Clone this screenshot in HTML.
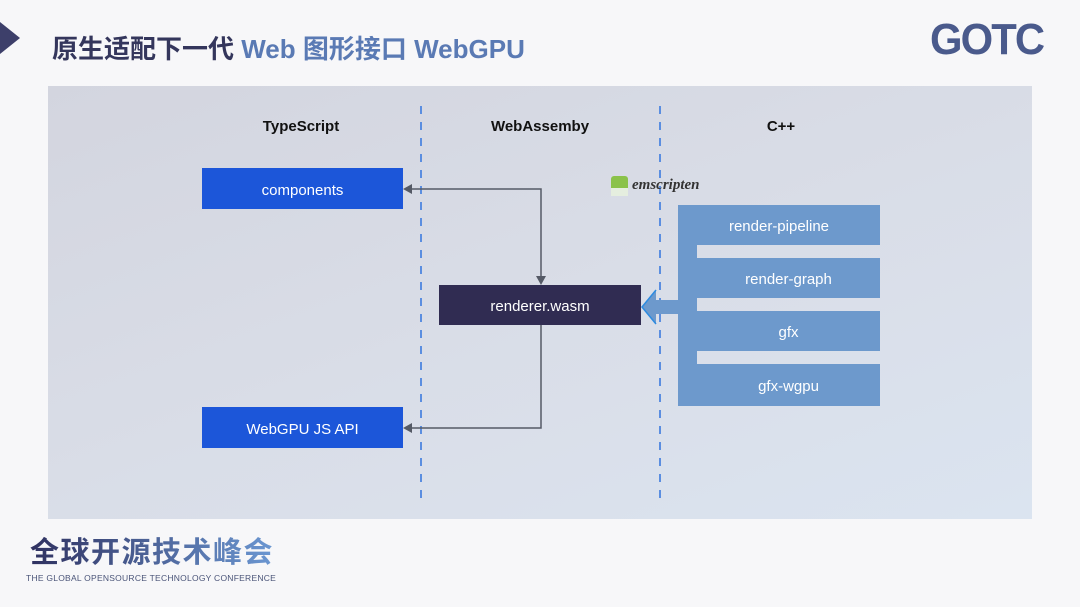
<!DOCTYPE html><html><head><meta charset="utf-8"><style>
body{margin:0;width:1080px;height:607px;overflow:hidden;background:#f7f7f9;font-family:"Liberation Sans","Noto Sans CJK SC",sans-serif;position:relative}
.a{position:absolute}
.box{position:absolute;color:#fff;font-size:15px;display:flex;align-items:center;justify-content:center;padding-top:3px;box-sizing:border-box}
.h{position:absolute;font-weight:bold;font-size:15px;color:#111;transform:translateX(-50%)}
</style></head><body>
<div class="a" style="left:0;top:22px;width:0;height:0;border-top:16px solid transparent;border-bottom:16px solid transparent;border-left:20px solid #3d3f6a"></div>
<div class="a" style="left:52px;top:29px;font-size:26px;font-weight:bold;font-family:'Liberation Sans','Noto Sans CJK SC',sans-serif;white-space:nowrap"><span style="color:#34365c">原生适配下一代 </span><span style="color:#5a7ab4">Web 图形接口 WebGPU</span></div>
<div class="a" style="left:930px;top:18px;width:110px;height:44px;font-size:44px;line-height:44px;font-weight:900;color:#4a5a8c;letter-spacing:-2px;font-family:'Liberation Sans',sans-serif;transform:scaleX(0.95);transform-origin:left">GOTC</div>
<div class="a" style="left:48px;top:86px;width:984px;height:433px;background:linear-gradient(160deg,#d3d5df 0%,#d9dde7 50%,#dbe4f0 100%)"></div>
<div class="h" style="left:301px;top:118px">TypeScript</div>
<div class="h" style="left:540px;top:118px">WebAssemby</div>
<div class="h" style="left:781px;top:118px">C++</div>
<svg class="a" style="left:0;top:0" width="1080" height="607">
<line x1="421" y1="106" x2="421" y2="505" stroke="#5b8ee0" stroke-width="2" stroke-dasharray="8,8"/>
<line x1="660" y1="106" x2="660" y2="505" stroke="#5b8ee0" stroke-width="2" stroke-dasharray="8,8"/>
<path d="M405 189H541V282" fill="none" stroke="#555a66" stroke-width="1.5"/>
<path d="M403 189l9-5v10z M541 285l-5-9h10z" fill="#555a66"/>
<path d="M541 325V428H406" fill="none" stroke="#555a66" stroke-width="1.5"/>
<path d="M403 428l9-5v10z" fill="#555a66"/>
<path d="M697 300H656V290L642 307L656 324V314H697Z" fill="#6d99cc"/>
<path d="M656 290L642 307L656 324" fill="none" stroke="#2d8be0" stroke-width="1.5"/>
<rect x="678" y="205" width="19" height="201" fill="#6d99cc"/>
<rect x="611" y="176" width="17" height="20" rx="3" fill="#8bc24a"/><rect x="611" y="188" width="17" height="8" fill="#e5eedf"/>
</svg>
<div class="a" style="left:632px;top:177px;font-family:'Liberation Serif',serif;font-style:italic;font-weight:bold;font-size:15px;color:#333">emscripten</div>
<div class="box" style="left:202px;top:168px;width:201px;height:41px;background:#1c56d9">components</div>
<div class="box" style="left:202px;top:407px;width:201px;height:41px;background:#1c56d9">WebGPU JS API</div>
<div class="box" style="left:439px;top:285px;width:202px;height:40px;background:#302c52">renderer.wasm</div>
<div class="box" style="left:678px;top:205px;width:202px;height:40px;background:#6d99cc">render-pipeline</div>
<div class="box" style="left:697px;top:258px;width:183px;height:40px;background:#6d99cc">render-graph</div>
<div class="box" style="left:697px;top:311px;width:183px;height:40px;background:#6d99cc">gfx</div>
<div class="box" style="left:697px;top:364px;width:183px;height:42px;background:#6d99cc">gfx-wgpu</div>
<div class="a" style="left:30px;top:529px;font-size:29px;font-weight:bold;font-family:'Noto Sans CJK SC',sans-serif;letter-spacing:1.5px;background:linear-gradient(90deg,#2f3160,#6b97d2);-webkit-background-clip:text;color:transparent;white-space:nowrap">全球开源技术峰会</div>
<div class="a" style="left:26px;top:573px;font-size:8.5px;letter-spacing:0.25px;color:#4a5478;white-space:nowrap">THE GLOBAL OPENSOURCE TECHNOLOGY CONFERENCE</div>
</body></html>
